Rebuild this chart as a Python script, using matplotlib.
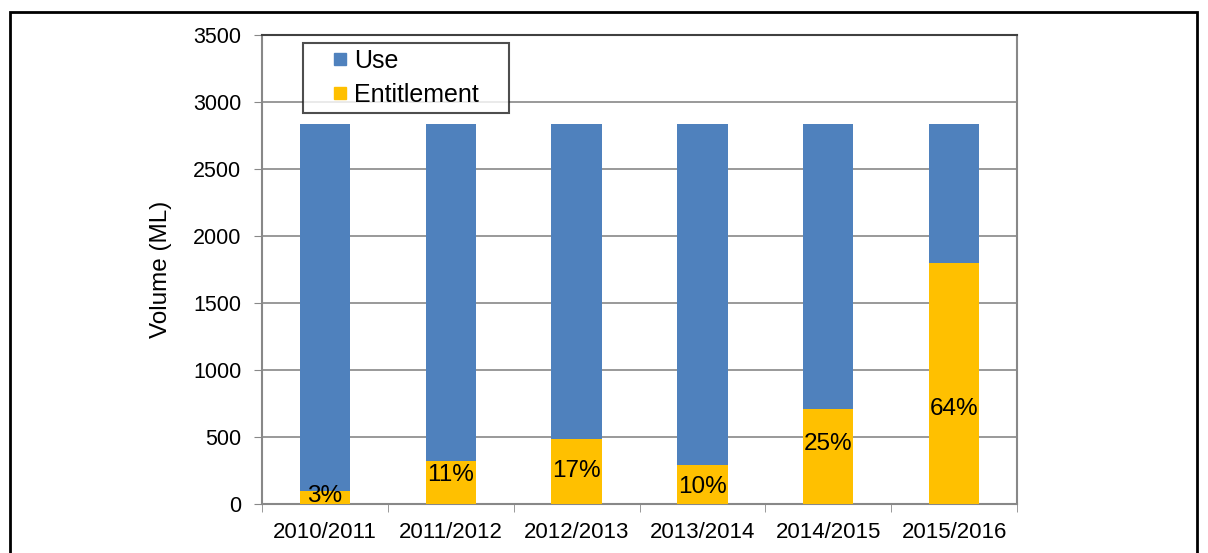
import numpy as np
import matplotlib.pyplot as plt
from matplotlib.lines import Line2D
from matplotlib.patches import Rectangle

plt.rcParams['font.family'] = ['Liberation Sans', 'DejaVu Sans']

seasons = ["2010/2011", "2011/2012", "2012/2013", "2013/2014", "2014/2015", "2015/2016"]
entitlement = [95, 320, 485, 290, 710, 1800]      # yellow, bottom segment (ML)
use = [2740, 2515, 2350, 2545, 2125, 1035]        # blue, stacked on top (ML)
pct_labels = ["3%", "11%", "17%", "10%", "25%", "64%"]
# where each percentage label sits (centre, in ML), as placed in the original
label_y = [60, 216, 246, 127, 448, 709]

BLUE = "#4F81BD"
GOLD = "#FFC000"
GRID = "#888888"

fig = plt.figure(figsize=(12.08, 5.53), dpi=100)
ax = fig.add_axes([262 / 1208, 49 / 553, 755 / 1208, 469 / 553])

x = np.arange(len(seasons))
w = 0.4
ax.bar(x, entitlement, w, color=GOLD, zorder=3)
ax.bar(x, use, w, bottom=entitlement, color=BLUE, zorder=3)

for xi, yi, lab in zip(x, label_y, pct_labels):
    ax.text(xi, yi, lab, ha="center", va="center", fontsize=17.5, zorder=4)

ax.set_xlim(-0.5, len(seasons) - 0.5)
ax.set_ylim(0, 3500)
ax.set_yticks(np.arange(0, 3501, 500))
ax.set_xticks(x)
ax.set_xticklabels(seasons, fontsize=16)
ax.set_xticks(np.arange(-0.5, len(seasons), 1), minor=True)
ax.tick_params(axis="x", which="major", length=0, pad=13)
ax.tick_params(axis="x", which="minor", length=6, color=GRID, direction="out")
ax.tick_params(axis="y", length=6, color=GRID, labelsize=15.5, pad=9)
ax.yaxis.grid(True, color=GRID, linewidth=1.2, zorder=0)
ax.set_axisbelow(True)
for side in ["left", "bottom", "right"]:
    ax.spines[side].set_color(GRID)
    ax.spines[side].set_linewidth(1.5)
ax.spines["top"].set_color("#404040")
ax.spines["top"].set_linewidth(1.5)

ax.set_ylabel("Volume (ML)", fontsize=17.5, labelpad=15)

handles = [Line2D([], [], linestyle="none", marker="s", markersize=8.6,
                  markerfacecolor=BLUE, markeredgecolor=BLUE),
           Line2D([], [], linestyle="none", marker="s", markersize=8.6,
                  markerfacecolor=GOLD, markeredgecolor=GOLD)]
leg = ax.legend(handles, ["Use", "Entitlement"], loc="upper left",
                bbox_to_anchor=(0.0543, 0.0, 0.2728, 0.983), mode="expand",
                fontsize=18, frameon=True, fancybox=False, edgecolor="#222222",
                handlelength=2.46, handletextpad=-0.67,
                borderpad=0.25, labelspacing=0.4, borderaxespad=0)
leg.get_frame().set_linewidth(1.5)
leg.set_zorder(5)

# outer page frame
fig.patches.append(Rectangle((10 / 1208, -0.05), 1187 / 1208, 1.05 - 12 / 553,
                             transform=fig.transFigure, fill=False,
                             edgecolor="black", linewidth=2))

fig.savefig("out.png", dpi=100)
